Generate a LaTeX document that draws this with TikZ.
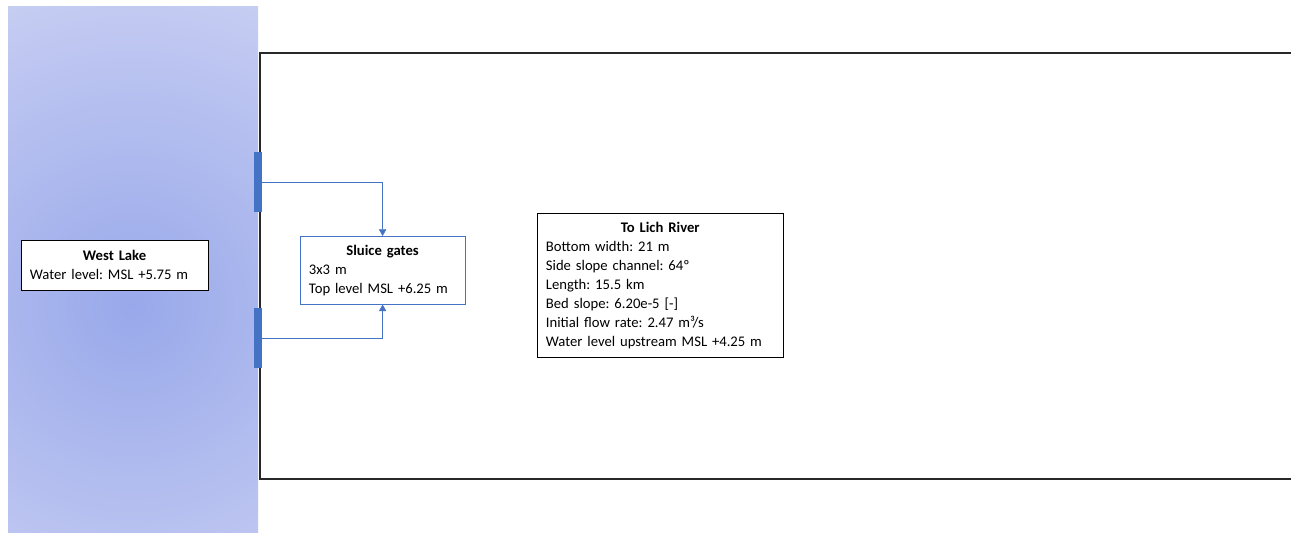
\documentclass[tikz,border=0pt]{standalone}
\usepackage{fontspec}
\setmainfont{Carlito}
\usepackage{tikz}
\usetikzlibrary{arrows.meta}
\frenchspacing
\definecolor{ColGate}{RGB}{68,114,196}
\definecolor{ColLakeIn}{RGB}{152,168,234}
\definecolor{ColLakeOut}{RGB}{212,216,245}
\definecolor{ColLine}{RGB}{40,40,40}
\tikzstyle{InfoBox}=[draw=black,fill=white,anchor=north west,align=left,
inner xsep=6.5pt,inner ysep=1pt,font=\fontsize{11}{14.25}\selectfont]
\tikzstyle{GateBar}=[fill=ColGate,inner sep=0pt,minimum width=6pt,minimum height=45pt]
\tikzstyle{FlowEdge}=[ColGate,thin,-{Triangle[length=5pt,width=5.5pt]}]

\begin{document}
\begin{tikzpicture}[x=0.75pt,y=-0.75pt]
        \useasboundingbox(0,0)rectangle(1291,532);
        % lake
        \begin{scope}
            \clip(8,6)rectangle(258,532);
            \fill[ColLakeOut](8,6)rectangle(258,532);
            \shade[inner color=ColLakeIn,outer color=ColLakeOut](132,306)circle(420);
        \end{scope}
        % channel
        \draw[ColLine,line width=1.1pt](1291,53)--(260,53)--(260,479)--(1291,479);
        \node[GateBar](gateA)at(258,182){};
        \node[GateBar](gateB)at(258,338){};
        \node[InfoBox,text width=127pt,minimum height=37.5pt](lake)at(21,240){%
            {\centering\textbf{West Lake}\par}Water level: MSL +5.75 m};
        \node[InfoBox,draw=ColGate,text width=110.5pt,minimum height=51pt](sluice)at(300,236){%
            {\centering\textbf{Sluice gates}\par}3x3 m\\Top level MSL +6.25 m};
        \node[InfoBox,text width=171.5pt,minimum height=108pt](river)at(537,213){%
            {\centering\textbf{To Lich River}\par}Bottom width: 21 m\\
            Side slope channel: 64º\\Length: 15.5 km\\Bed slope: 6.20e-5 [-]\\
            Initial flow rate: 2.47 m³/s\\Water level upstream MSL +4.25 m};
        \draw[FlowEdge](gateA.east)-|(sluice.north);
        \draw[FlowEdge](gateB.east)-|(sluice.south);
    \end{tikzpicture}
\end{document}
